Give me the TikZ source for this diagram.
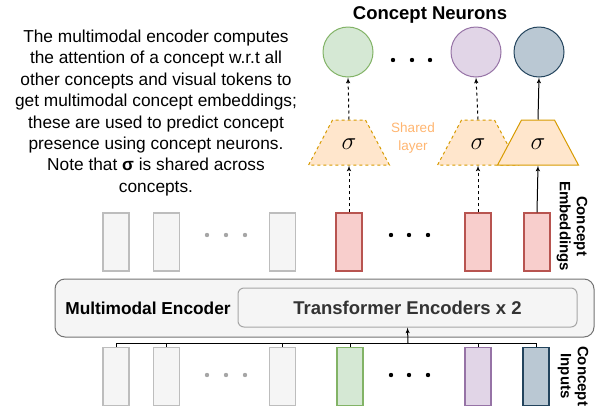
\documentclass[tikz,border=0pt]{standalone}
\usepackage{fontspec}
\setmainfont{Liberation Sans}
\usepackage{tikz}
\usepackage{xcolor}
\usetikzlibrary{positioning}
\usetikzlibrary{shapes, arrows}
\tikzstyle{line} = [draw, -latex']

\definecolor{grayfill}{HTML}{F5F5F5}
\definecolor{graydraw}{HTML}{BDBDBD}
\definecolor{redfill}{HTML}{F8CECC}
\definecolor{reddraw}{HTML}{B85450}
\definecolor{greenfill}{HTML}{D5E8D4}
\definecolor{greendraw}{HTML}{82B366}
\definecolor{purplefill}{HTML}{E1D5E7}
\definecolor{purpledraw}{HTML}{9673A6}
\definecolor{bluefill}{HTML}{BAC8D3}
\definecolor{bluedraw}{HTML}{23445D}
\definecolor{orangefill}{HTML}{FFE6CC}
\definecolor{orangedraw}{HTML}{D79B00}
\definecolor{sharedtext}{HTML}{FFB570}

\tikzset{
  token/.style={draw, line width=1.1pt, minimum width=26pt, minimum height=58pt, inner sep=0pt},
  neuron/.style={draw, circle, line width=1pt, minimum size=50pt, inner sep=0pt},
  sigmalayer/.style={draw=orangedraw, fill=orangefill, line width=1pt, trapezium,
    trapezium left angle=62, trapezium right angle=62, text width=19pt, text height=13pt, text depth=0pt,
    align=center, inner xsep=7pt, inner ysep=16pt, font=\fontsize{30}{32}\selectfont},
  sidelabel/.style={rotate=-90, align=center, font=\fontsize{15}{17}\selectfont\bfseries},
}

\begin{document}
\begin{tikzpicture}[x=1pt, y=-1pt]
			\useasboundingbox (0,0) rectangle (595,413);

			% note on the left
			\node[align=center, font=\fontsize{17.3}{21.4}\selectfont] (note) at (156,113) {The multimodal encoder computes\\ the attention of a concept w.r.t all\\ other concepts and visual tokens to\\ get multimodal concept embeddings;\\ these are used to predict concept\\ presence using concept neurons.\\ Note that \textbf{σ} is shared across\\ concepts.};

			% encoder
			\node[draw=gray!90!black, fill=grayfill, rounded corners=10pt, line width=1pt, minimum width=539pt, minimum height=58pt] (enc) at (324.5,308) {};
			\node[draw=gray!70, fill=grayfill, rounded corners=6pt, line width=1pt, minimum width=339pt, minimum height=39pt, font=\fontsize{18.5}{21}\selectfont\bfseries, text=black!80] (tf) at (407.5,307.5) {Transformer Encoders x 2};
			\node[font=\fontsize{17.3}{20}\selectfont\bfseries] (enclabel) at (148,308) {Multimodal Encoder};

			% concept inputs
			\node[token, draw=graydraw, fill=grayfill] (in1) at (116,376.5) {};
			\node[token, draw=graydraw, fill=grayfill] (in2) at (166.5,376.5) {};
			\node[token, draw=graydraw, fill=grayfill] (in3) at (282.5,376.5) {};
			\node[token, draw=greendraw, fill=greenfill] (in4) at (350,376.5) {};
			\node[token, draw=purpledraw, fill=purplefill] (in5) at (478,376.5) {};
			\node[token, draw=bluedraw, fill=bluefill] (in6) at (536,376.5) {};

			% concept embeddings
			\node[token, draw=graydraw, fill=grayfill] (emb1) at (116,242) {};
			\node[token, draw=graydraw, fill=grayfill] (emb2) at (166.5,242) {};
			\node[token, draw=graydraw, fill=grayfill] (emb3) at (282.5,242) {};
			\node[token, draw=reddraw, fill=redfill] (emb4) at (349,242) {};
			\node[token, draw=reddraw, fill=redfill] (emb5) at (478,242) {};
			\node[token, draw=reddraw, fill=redfill] (emb6) at (537,242) {};

			% shared sigma layers
			\node[sigmalayer, dashed] (sig1) at (349,142.5) {$\sigma$};
			\node[sigmalayer, dashed] (sig2) at (478,142.5) {$\sigma$};
			\node[sigmalayer] (sig3) at (538,142.5) {$\sigma$};
			\node[align=center, text=sharedtext, font=\fontsize{13.5}{18}\selectfont] (shared) at (413,138) {Shared\\ layer};

			% concept neurons
			\node[neuron, draw=greendraw, fill=greenfill] (neu1) at (348,52) {};
			\node[neuron, draw=purpledraw, fill=purplefill] (neu2) at (476,52) {};
			\node[neuron, draw=bluedraw, fill=bluefill] (neu3) at (539,52) {};
			\node[font=\fontsize{18.5}{21}\selectfont\bfseries] (neutitle) at (430,15) {Concept Neurons};

			% side labels
			\node[sidelabel] (emblabel) at (572,226) {Concept\\ Embeddings};
			\node[sidelabel] (inlabel) at (573,376) {Concept\\ Inputs};

			% dots
			\foreach \x in {207,226,245} {
				\fill[gray!70] (\x,235) circle (2.2pt);
				\fill[gray!70] (\x,375) circle (2.2pt);
			}
			\foreach \x in {391,409,428} {
				\fill (\x,235) circle (2.2pt);
				\fill (\x,375) circle (2.2pt);
			}
			\foreach \x in {393,412,430}
				\fill (\x,60) circle (2.2pt);

			% inputs into the encoder
			\coordinate (bus) at (408,343);
			\draw[line width=1pt] (in1.north) -- (in1.north |- bus) -- (in6.north |- bus) -- (in6.north);
			\foreach \i in {2,3,4,5}
				\draw[line width=1pt] (in\i.north) -- (in\i.north |- bus);
			\draw[line, line width=1pt] (bus) -- (tf.south);

			% embeddings to neurons
			\draw[line, dashed, line width=1pt] (emb4.north) -- (sig1.south);
			\draw[line, dashed, line width=1pt] (sig1.north) -- (neu1.south);
			\draw[line, dashed, line width=1pt] (emb5.north) -- (sig2.south);
			\draw[line, dashed, line width=1pt] (sig2.north) -- (neu2.south);
			\draw[line, line width=1pt] (emb6.north) -- (sig3.south);
			\draw[line, line width=1pt] (sig3.north) -- (neu3.south);
		\end{tikzpicture}
\end{document}
